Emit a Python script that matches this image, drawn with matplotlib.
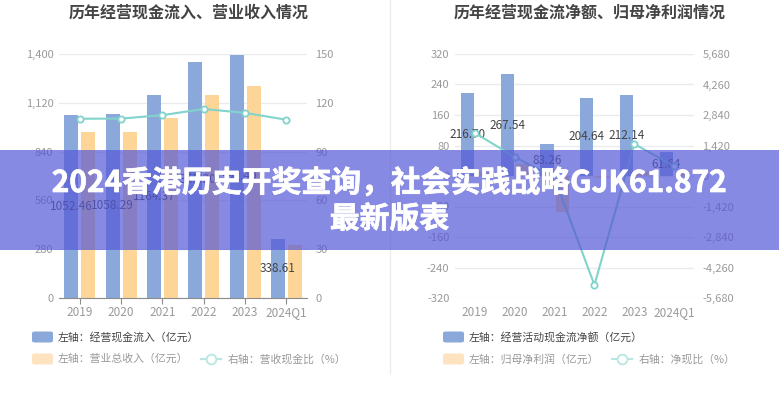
import matplotlib
matplotlib.use("Agg")
import matplotlib.pyplot as plt
from matplotlib.patches import FancyBboxPatch, Rectangle
from matplotlib.lines import Line2D
import matplotlib.patheffects as pe
import numpy as np

plt.rcParams['font.family'] = ['Noto Sans CJK SC', 'DejaVu Sans']

# ---------------- data ----------------
categories = ["2019", "2020", "2021", "2022", "2023", "2024Q1"]

# left chart
cash_inflow = [1052.46, 1058.29, 1164.37, 1355.20, 1392.40, 338.61]   # 经营现金流入 (亿元)
revenue = [952, 952, 1033, 1165, 1216, 304]                           # 营业总收入 (亿元)
cash_rev_ratio = [110.2, 110.3, 112.4, 116.2, 113.8, 109.6]           # 营收现金比 (%)

# right chart
net_cash_flow = [216.70, 267.54, 83.26, 204.64, 212.14, 61.64]        # 经营活动现金流净额 (亿元)
net_profit = [10.8, 30.2, -94.0, -4.0, 14.2, 13.3]                    # 归母净利润 (亿元)
net_cash_ratio = [2002, 885, -88, -5075, 1490, 465]                   # 净现比 (%)

left_ticks = [0, 280, 560, 840, 1120, 1400]
left_rticks = [0, 30, 60, 90, 120, 150]
right_ticks = [-320, -240, -160, -80, 0, 80, 160, 240, 320]
right_rticks = [-5680, -4260, -2840, -1420, 0, 1420, 2840, 4260, 5680]

banner_line1 = "2024香港历史开奖查询，社会实践战略GJK61.872"
banner_line2 = "最新版表"

# ---------------- style ----------------
BLUE = '#8aa8da'
ORANGE = '#fdd597'
ORANGE_L = '#fde3c0'
TEAL = '#82d3cb'
TEAL_L = '#b9e6e1'
GRID = '#e9ebef'
TICKC = '#9a9a9a'

W, H = 779, 400
fig = plt.figure(figsize=(W / 100, H / 100), dpi=100)
fig.patch.set_facecolor('white')


def fx(px):
    return px / W


def fy(py):
    return (H - py) / H


def style_axes(ax, axr, ticks, rticks, fmt_comma, bottom_line):
    for a in (ax, axr):
        for s in a.spines.values():
            s.set_visible(False)
    ax.set_yticks(ticks)
    ax.set_yticklabels([f"{t:,}" if fmt_comma else str(t) for t in ticks])
    axr.set_yticks(rticks)
    axr.set_yticklabels([f"{t:,}" for t in rticks])
    ax.tick_params(axis='y', length=0, pad=4, labelcolor=TICKC, labelsize=8)
    axr.tick_params(axis='y', length=0, pad=6, labelcolor=TICKC, labelsize=8)
    ax.grid(axis='y', color=GRID, linewidth=1)
    ax.set_axisbelow(True)
    ax.set_xticks(range(len(categories)))
    ax.set_xticklabels(categories)
    ax.set_xlim(-0.5, len(categories) - 0.5)
    if bottom_line:
        ax.spines['bottom'].set_visible(True)
        ax.spines['bottom'].set_color('#8c8c8c')
        ax.tick_params(axis='x', length=4, color='#8c8c8c', pad=2,
                       labelcolor=TICKC, labelsize=8.5)
    else:
        ax.tick_params(axis='x', length=0, pad=5.5, labelcolor=TICKC, labelsize=8.5)


x = np.arange(len(categories))
bw = 0.34

# ---------------- left chart ----------------
axL = fig.add_axes([fx(59), fy(298), fx(248), 244 / H])
axLr = axL.twinx()
axL.bar(x - 0.2, cash_inflow, width=bw, color=BLUE, zorder=2)
axL.bar(x + 0.21, revenue, width=bw, color=ORANGE, zorder=2)
axL.set_ylim(0, 1400)
axLr.set_ylim(0, 150)
axLr.plot(x, cash_rev_ratio, color=TEAL, lw=1.5, marker='o', ms=4.5,
          mfc='white', mec=TEAL, mew=1.3, zorder=3)
for xi, v in zip(x, cash_inflow):
    axL.text(xi - 0.2, v / 2, f"{v:.2f}", ha='center', va='center',
             fontsize=8.5, color='#444444', zorder=4)
style_axes(axL, axLr, left_ticks, left_rticks, True, True)

# ---------------- right chart ----------------
axR = fig.add_axes([fx(455), fy(298), fx(239), 244 / H])
axRr = axR.twinx()
axR.bar(x - 0.19, net_cash_flow, width=0.33, color=BLUE, zorder=2)
axR.bar(x + 0.2, net_profit, width=0.33, color=ORANGE, zorder=2)
axR.set_ylim(-320, 320)
axRr.set_ylim(-5680, 5680)
axRr.plot(x, net_cash_ratio, color=TEAL, lw=1.5, marker='o', ms=4.5,
          mfc='white', mec=TEAL, mew=1.3, zorder=3)
for xi, v in zip(x, net_cash_flow):
    axR.text(xi - 0.19, v / 2, f"{v:.2f}", ha='center', va='center',
             fontsize=8.5, color='#444444', zorder=4)
style_axes(axR, axRr, right_ticks, right_rticks, False, False)

# ---------------- titles ----------------
fig.text(fx(189), fy(13), "历年经营现金流入、营业收入情况", ha='center', va='center',
         fontsize=11.5, fontweight='bold', color='#444444')
fig.text(fx(590), fy(13), "历年经营现金流净额、归母净利润情况", ha='center', va='center',
         fontsize=11.5, fontweight='bold', color='#444444')

# divider
fig.add_artist(Line2D([fx(389.5), fx(389.5)], [fy(0), fy(373)], color='#ececec', lw=1))


# ---------------- legends ----------------
def rect_legend(xpx, ypx, color, text, tcolor):
    fig.add_artist(FancyBboxPatch((fx(xpx), fy(ypx + 5.5)), fx(21), 11 / H,
                                  boxstyle="round,pad=0,rounding_size=0.004",
                                  transform=fig.transFigure, color=color, lw=0))
    fig.text(fx(xpx + 26), fy(ypx), text, ha='left', va='center',
             fontsize=7.8, color=tcolor)


def line_legend(xpx, ypx, text, tcolor):
    fig.add_artist(Line2D([fx(xpx), fx(xpx + 20)], [fy(ypx), fy(ypx)],
                          color=TEAL_L, lw=1.5))
    fig.add_artist(Line2D([fx(xpx + 10)], [fy(ypx)], marker='o', ms=7,
                          mfc='white', mec=TEAL_L, mew=1.3))
    fig.text(fx(xpx + 27), fy(ypx), text, ha='left', va='center',
             fontsize=7.8, color=tcolor)


rect_legend(32, 337, BLUE, "左轴：经营现金流入（亿元）", '#444444')
rect_legend(32, 359, ORANGE_L, "左轴：营业总收入（亿元）", '#999999')
line_legend(201, 359, "右轴：营收现金比（%）", '#999999')

rect_legend(443, 337, BLUE, "左轴：经营活动现金流净额（亿元）", '#444444')
rect_legend(443, 359, ORANGE_L, "左轴：归母净利润（亿元）", '#999999')
line_legend(612, 359, "右轴：净现比（%）", '#999999')

# ---------------- banner overlay ----------------
fig.add_artist(Rectangle((0, fy(250)), 1, 100 / H, transform=fig.transFigure,
                         facecolor='#5558d6', alpha=0.7, lw=0, zorder=10))
stroke = [pe.withStroke(linewidth=0.5, foreground='white')]
fig.text(0.5, fy(183), banner_line1, ha='center', va='center', fontsize=21.5,
         fontweight='bold', color='white', zorder=11, path_effects=stroke)
fig.text(0.5, fy(219), banner_line2, ha='center', va='center', fontsize=21.5,
         fontweight='bold', color='white', zorder=11, path_effects=stroke)

fig.savefig("out.png", dpi=100)
